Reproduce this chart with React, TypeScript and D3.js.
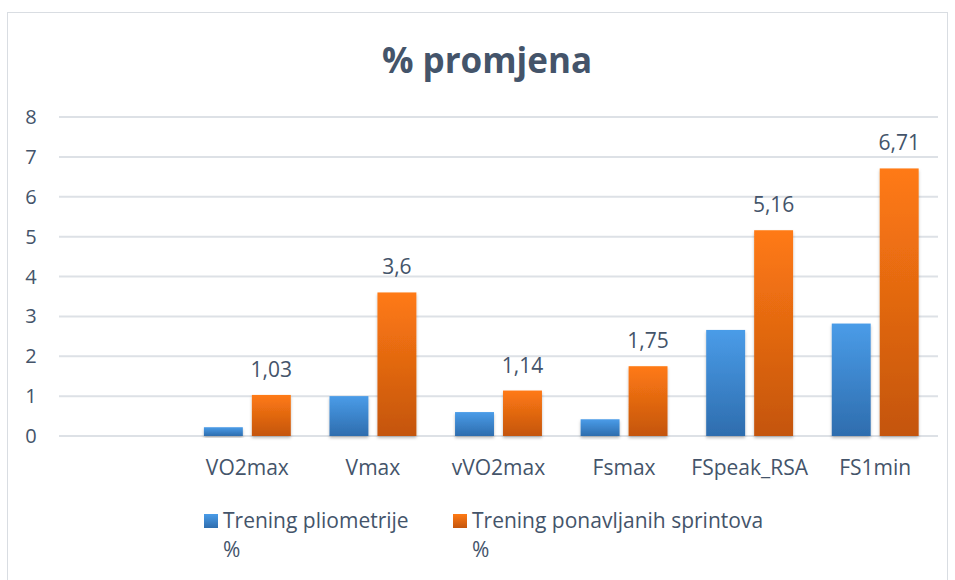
import React from "react";
import * as d3 from "d3";

const categories = ["", "VO2max", "Vmax", "vVO2max", "Fsmax", "FSpeak_RSA", "FS1min"];
const pliometrija: (number | null)[] = [null, 0.22, 1.0, 0.6, 0.42, 2.66, 2.82];
const sprintovi: (number | null)[] = [null, 1.03, 3.6, 1.14, 1.75, 5.16, 6.71];
const sprintLabels = ["", "1,03", "3,6", "1,14", "1,75", "5,16", "6,71"];
const yTicks = [0, 1, 2, 3, 4, 5, 6, 7, 8];
const title = "% promjena";
const legendNames = [["Trening pliometrije", "%"], ["Trening ponavljanih sprintova", "%"]];

const W = 955, H = 580;
const left = 59, right = 938, top = 117, bottom = 436;
const font = "'Open Sans', sans-serif";
const textColor = "#44546A";

export default function App() {
  const x = d3.scaleBand<string>().domain(categories.map((c, i) => String(i))).range([left, right]).paddingInner(0).paddingOuter(0);
  const y = d3.scaleLinear().domain([0, 8]).range([bottom, top]);
  const bw = x.bandwidth();
  const barW = bw * 0.31;
  const gap = bw * 0.072;
  const groupW = barW * 2 + gap;

  return (
    <svg width={W} height={H} style={{ position: "absolute", left: 0, top: 0 }} fontFamily={font}>
      <defs>
        <linearGradient id="gBlue" x1="0" y1="0" x2="0" y2="1">
          <stop offset="0%" stopColor="#4A9CE8" />
          <stop offset="100%" stopColor="#2E6DAE" />
        </linearGradient>
        <linearGradient id="gOrange" x1="0" y1="0" x2="0" y2="1">
          <stop offset="0%" stopColor="#FF7A14" />
          <stop offset="100%" stopColor="#C4550D" />
        </linearGradient>
        <filter id="shadow" x="-20%" y="-20%" width="140%" height="140%">
          <feDropShadow dx="0" dy="2" stdDeviation="1.5" floodColor="#000" floodOpacity="0.25" />
        </filter>
      </defs>
      <rect x={0} y={0} width={W} height={H} fill="#fff" />
      <rect x={7.5} y={12.5} width={940} height={570} fill="#fff" stroke="#D9DDE2" strokeWidth={1} />
      <text x={487} y={73} textAnchor="middle" fontSize={35} fontWeight="bold" fill={textColor}>{title}</text>
      {yTicks.map((t) => (
        <g key={t}>
          <line x1={left} x2={right} y1={y(t)} y2={y(t)} stroke="#DDE1E6" strokeWidth={2} />
          <text x={31} y={y(t) + 7} textAnchor="middle" fontSize={20} fill={textColor}>{t}</text>
        </g>
      ))}
      {categories.map((c, i) => {
        const x0 = (x(String(i)) as number) + (bw - groupW) / 2;
        const p = pliometrija[i];
        const s = sprintovi[i];
        return (
          <g key={i}>
            {p != null && (
              <rect x={x0} y={y(p)} width={barW} height={y(0) - y(p)} fill="url(#gBlue)" filter="url(#shadow)" />
            )}
            {s != null && (
              <rect x={x0 + barW + gap} y={y(s)} width={barW} height={y(0) - y(s)} fill="url(#gOrange)" filter="url(#shadow)" />
            )}
            {s != null && (
              <text x={x0 + barW + gap + barW / 2} y={y(s) - 18} textAnchor="middle" fontSize={21} fill={textColor}>{sprintLabels[i]}</text>
            )}
            <text x={(x(String(i)) as number) + bw / 2} y={475} textAnchor="middle" fontSize={21} fill={textColor}>{c}</text>
          </g>
        );
      })}
      {legendNames.map((lines, i) => {
        const lx = i === 0 ? 204 : 453;
        return (
          <g key={i}>
            <rect x={lx} y={514} width={14} height={14} fill={i === 0 ? "url(#gBlue)" : "url(#gOrange)"} />
            <text x={lx + 19} y={528} fontSize={21} fill={textColor}>{lines[0]}</text>
            <text x={lx + 19} y={557} fontSize={21} fill={textColor}>{lines[1]}</text>
          </g>
        );
      })}
    </svg>
  );
}
